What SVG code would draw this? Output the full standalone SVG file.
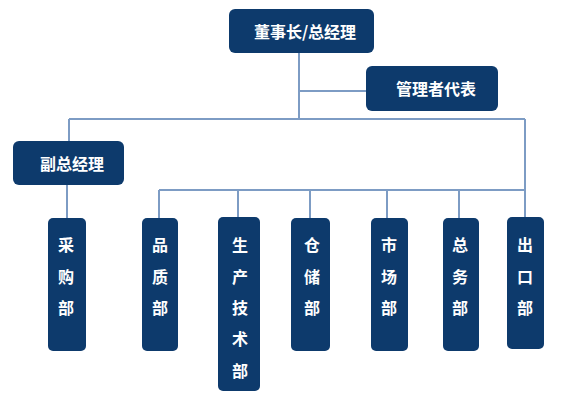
<svg xmlns="http://www.w3.org/2000/svg" width="567" height="406" viewBox="0 0 567 406">
<style>
.box{fill:#0d3a6c;}
.ln{stroke:#7d9cc4;stroke-width:2;fill:none;}
.t{fill:#ffffff;font-family:"Noto Sans CJK SC","Noto Sans",sans-serif;font-weight:bold;font-size:16px;text-anchor:middle;dominant-baseline:central;}
</style>
<rect width="567" height="406" fill="#ffffff"/>
<g id="connectors">
<path class="ln" d="M299 53V119M299 91H366M69 119H525M69 119V141M67 185V218M525 119V217M159 190H525M159 190V218M238 190V217M310 190V218M387 190V218M459 190V218"/>
</g>
<g id="n-ceo"><rect class="box" x="229" y="9" width="145" height="44" rx="6"/><text class="t" x="305" y="31">董事长/总经理</text></g>
<g id="n-rep"><rect class="box" x="366" y="66" width="132" height="45" rx="6"/><text class="t" x="436" y="88">管理者代表</text></g>
<g id="n-vp"><rect class="box" x="13" y="141" width="111" height="44" rx="6"/><text class="t" x="72" y="163">副总经理</text></g>
<g id="n-purchase"><rect class="box" x="48" y="218" width="38" height="133" rx="5"/><text class="t" x="66" y="244">采</text><text class="t" x="66" y="276">购</text><text class="t" x="66" y="307">部</text></g>
<g id="n-quality"><rect class="box" x="142" y="218" width="36" height="133" rx="5"/><text class="t" x="160" y="244">品</text><text class="t" x="160" y="276">质</text><text class="t" x="160" y="307">部</text></g>
<g id="n-production"><rect class="box" x="218" y="217" width="42" height="174" rx="5"/><text class="t" x="240" y="244">生</text><text class="t" x="240" y="276">产</text><text class="t" x="240" y="307">技</text><text class="t" x="240" y="338">术</text><text class="t" x="240" y="370">部</text></g>
<g id="n-warehouse"><rect class="box" x="291" y="218" width="39" height="133" rx="5"/><text class="t" x="312" y="244">仓</text><text class="t" x="312" y="276">储</text><text class="t" x="312" y="307">部</text></g>
<g id="n-market"><rect class="box" x="371" y="218" width="37" height="133" rx="5"/><text class="t" x="389" y="244">市</text><text class="t" x="389" y="276">场</text><text class="t" x="389" y="307">部</text></g>
<g id="n-general"><rect class="box" x="443" y="218" width="36" height="133" rx="5"/><text class="t" x="460" y="244">总</text><text class="t" x="460" y="276">务</text><text class="t" x="460" y="307">部</text></g>
<g id="n-export"><rect class="box" x="507" y="217" width="37" height="132" rx="5"/><text class="t" x="525" y="244">出</text><text class="t" x="525" y="276">口</text><text class="t" x="525" y="307">部</text></g>
</svg>
